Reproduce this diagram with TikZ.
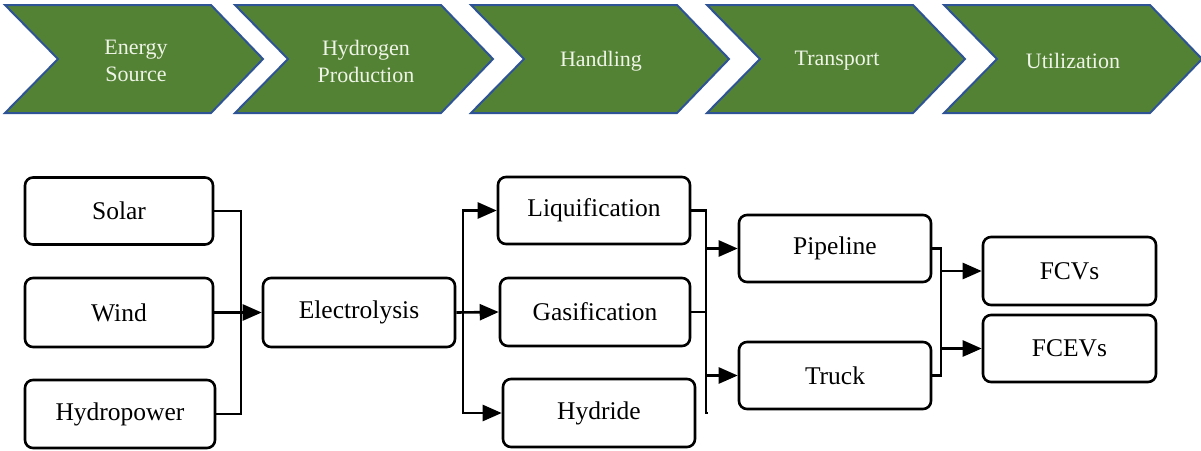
\documentclass[tikz,border=0pt]{standalone}
\usepackage{fontspec}
\setmainfont{LiberationSerif-Regular.ttf}
\newfontfamily\tnr{LiberationSerif-Regular.ttf}
\usetikzlibrary{arrows.meta,calc}
\definecolor{chevgreen}{HTML}{548235}
\definecolor{chevblue}{HTML}{2F5496}
\definecolor{chevtext}{HTML}{EEF4E6}
\begin{document}
\begin{tikzpicture}[x=1pt,y=-1pt,
  chev/.style={fill=chevgreen,draw=chevblue,line width=2pt,line join=miter},
  chevlabel/.style={text=chevtext,align=center,font=\tnr\fontsize{22}{27}\selectfont},
  box/.style={draw=black,line width=2.6pt,rounded corners=8pt,inner sep=0pt,font=\tnr\fontsize{25.5}{30}\selectfont},
  link/.style={draw=black,line width=2.6pt},
  arr/.style={link,-{Triangle[length=19pt,width=16pt]}}]
\useasboundingbox (0,0) rectangle (1201,450);
% chevrons
\foreach \l/\n in {5/c1,235/c2,471/c3,707/c4,944/c5}{
  \path[chev] (\l,5) -- ++(206,0) -- ++(52,54) -- ++(-52,54) -- ++(-206,0) -- ++(53,-54) -- cycle;
}
\node[chevlabel] (t1) at (136,61) {Energy\\Source};
\node[chevlabel] (t2) at (366,61) {Hydrogen\\Production};
\node[chevlabel] (t3) at (601,61) {Handling};
\node[chevlabel] (t4) at (837,61) {Transport};
\node[chevlabel] (t5) at (1073,61) {Utilization};
% boxes
\node[box,minimum width=188pt,minimum height=67pt] (solar) at (119,211) {Solar};
\node[box,minimum width=188pt,minimum height=69pt] (wind) at (119,312.5) {Wind};
\node[box,minimum width=190pt,minimum height=68pt] (hydro) at (120,414) {Hydropower};
\node[box,minimum width=192pt,minimum height=69pt] (elec) at (359,312.5) {Electrolysis};
\node[box,minimum width=192pt,minimum height=67pt] (liq) at (594,210.5) {Liquification};
\node[box,minimum width=190pt,minimum height=68pt] (gas) at (595,312) {Gasification};
\node[box,minimum width=192pt,minimum height=68pt] (hyd) at (599,413) {Hydride};
\node[box,minimum width=192pt,minimum height=67pt] (pipe) at (835,248.5) {Pipeline};
\node[box,minimum width=192pt,minimum height=67pt] (truck) at (835,375.5) {Truck};
\node[box,minimum width=173pt,minimum height=68pt] (fcv) at (1069.5,271) {FCVs};
\node[box,minimum width=173pt,minimum height=67pt] (fcev) at (1069.5,348.5) {FCEVs};
% bus 1
\coordinate (b1) at (241,312.5);
\draw[link] (solar.east) -| (b1) |- (hydro.east);
\draw[arr] (wind.east) -- (elec.west);
% bus 2
\coordinate (b2) at (463,312);
\draw[arr] (elec.east) -- (gas.west);
\draw[arr] (b2) |- (liq.west);
\draw[arr] (b2) |- (hyd.west);
% bus 3
\coordinate (b3) at (706,312);
\draw[link] (liq.east) -| (b3) |- ($(hyd.east)+(12,0)$);
\draw[link] (gas.east) -- (b3);
\draw[arr] (b3 |- pipe.west) -- (pipe.west);
\draw[arr] (b3 |- truck.west) -- (truck.west);
% bus 4
\coordinate (b4) at (941,312);
\draw[link] (pipe.east) -| (b4) |- (truck.east);
\draw[arr] (b4 |- fcv.west) -- (fcv.west);
\draw[arr] (b4 |- fcev.west) -- (fcev.west);
\end{tikzpicture}
\end{document}
